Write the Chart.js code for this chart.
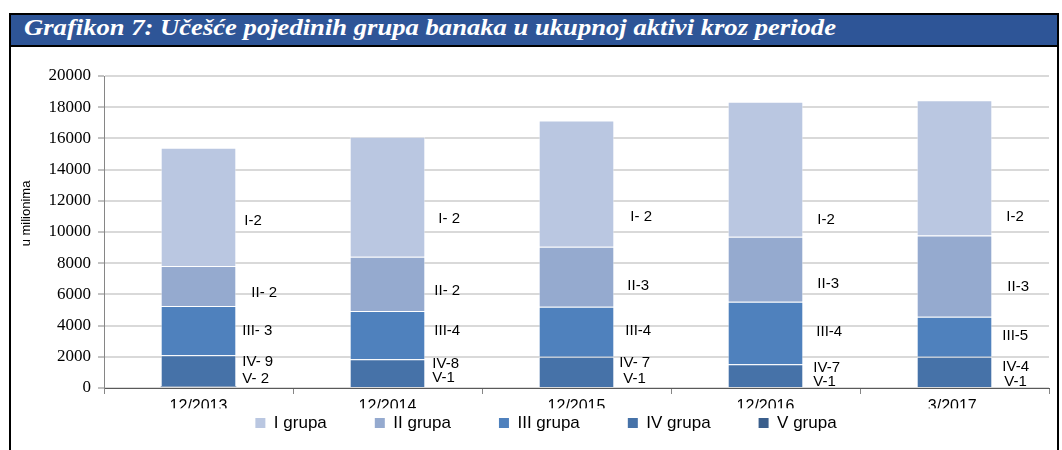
<!DOCTYPE html>
<html><head><meta charset="utf-8">
<script src="https://cdn.jsdelivr.net/npm/chart.js@4.4.1/dist/chart.umd.min.js"></script>
<style>
html,body{margin:0;padding:0;background:#fff;width:1062px;height:450px;overflow:hidden;}
#frame{position:absolute;left:9px;top:13px;width:1046px;height:437px;border-left:2px solid #000;border-top:2px solid #000;border-right:2px solid #000;}
#title{position:absolute;left:0;top:0;width:100%;height:30px;background:#2E5597;border-bottom:2px solid #000;overflow:hidden;}
#title span{position:absolute;left:13px;top:1px;font:bold italic 23px/23px 'Liberation Serif';color:#fff;white-space:nowrap;transform-origin:0 0;}
#wrap{position:absolute;left:11px;top:47px;width:1046px;height:403px;}
</style></head>
<body>
<div id="frame"><div id="title"><span id="tt">Grafikon 7: Učešće pojedinih grupa banaka u ukupnoj aktivi kroz periode</span></div></div>
<div id="wrap"><canvas id="c"></canvas></div>
<script>
// ---- data ----
const categories = ['12/2013','12/2014','12/2015','12/2016','3/2017.'];
const grupaI   = [7580, 7680, 8090, 8650, 8680];
const grupaII  = [2560, 3480, 3850, 4170, 5200];
const grupaIII = [3160, 3100, 3200, 4010, 2560];
const grupaIV  = [2000, 1770, 1940, 1450, 1940];
const grupaV   = [100, 70, 70, 70, 70];
const seriesNames = ['I grupa','II grupa','III grupa','IV grupa','V grupa'];
const yTicks = [0,2000,4000,6000,8000,10000,12000,14000,16000,18000,20000];
// number of banks per group (text labels)
const labI   = ['I-2','I- 2','I- 2','I-2','I-2'];
const labII  = ['II- 2','II- 2','II-3','II-3','II-3'];
const labIII = ['III- 3','III-4','III-4','III-4','III-5'];
const labIV  = ['IV- 9','IV-8','IV- 7','IV-7','IV-4'];
const labV   = ['V- 2','V-1','V-1','V-1','V-1'];

// ---- label placement (value level on the y scale, pixel gap from bar edge) ----
const labelLevel = {
  I:[10737,10820,10942,10794,10987], II:[6070,6237,6538,6647,6493],
  III:[3654,3673,3673,3590,3352], IV:[1686,1538,1622,1263,1327], V:[558,622,577,404,404]
};
const labelGap = {
  I:[8,13,16,14,14], II:[15,9,13,14,15], III:[6,9,11,13,10], IV:[6,7,5,10,10], V:[6,7,9,10,12]
};

// title fit
(function(){const t=document.getElementById('tt');const w=t.getBoundingClientRect().width;t.style.transform='scaleX('+(812/w)+')';})();

const colors = {I:'#BAC7E1', II:'#95AACF', III:'#4F81BD', IV:'#4672A8', V:'#3A5E8C'};

const labelPlugin = {
  id:'groupLabels',
  afterDatasetsDraw(chart){
    const ctx = chart.ctx, ys = chart.scales.y;
    const groups = [['V',labV,0],['IV',labIV,1],['III',labIII,2],['II',labII,3],['I',labI,4]];
    ctx.save();
    ctx.fillStyle='#000';
    ctx.font='15px "Liberation Sans"';
    ctx.textAlign='left'; ctx.textBaseline='middle';
    groups.forEach(([k,texts,di])=>{
      const meta = chart.getDatasetMeta(di);
      meta.data.forEach((bar,j)=>{
        const right = bar.x + bar.width/2;
        ctx.fillText(texts[j], right + labelGap[k][j], ys.getPixelForValue(labelLevel[k][j]));
      });
    });
    ctx.restore();
  },
  afterDraw(chart){
    const ctx=chart.ctx, a=chart.chartArea;
    ctx.save();
    // lower part of category labels is hidden behind the legend area in the original
    ctx.fillStyle='#fff';
    ctx.fillRect(a.left+2, 361.3, a.right-a.left-4, 5);
    // y-axis title
    ctx.fillStyle='#000';
    ctx.font='13px "Liberation Sans"';
    ctx.translate(15, 166.5); ctx.rotate(-Math.PI/2);
    ctx.textAlign='center'; ctx.textBaseline='middle';
    ctx.fillText('u milionima',0,0);
    ctx.restore();
    // legend (series in I..V order)
    ctx.save();
    ctx.font='17px "Liberation Sans"';
    ctx.textBaseline='middle'; ctx.textAlign='left';
    const items = chart.data.datasets.map((d,i)=>({text:d.label,color:d.backgroundColor})).reverse();
    const box=10, gapText=8.5, gapItem=48;
    const widths = items.map(it=>box+gapText+ctx.measureText(it.text).width);
    const total = widths.reduce((s,w)=>s+w,0)+gapItem*(items.length-1);
    let x = 535 - total/2; const yc = 376;
    items.forEach((it,i)=>{
      ctx.fillStyle=it.color; ctx.fillRect(x, yc-5, box, box);
      ctx.fillStyle='#000'; ctx.fillText(it.text, x+box+gapText, yc+0.5);
      x += widths[i]+gapItem;
    });
    ctx.restore();
  }
};

const ds = (label,data,color,bw)=>({label,data,backgroundColor:color,borderColor:'rgba(255,255,255,0.45)',borderWidth:bw,barPercentage:0.4,categoryPercentage:1});

new Chart(document.getElementById('c'),{
  type:'bar',
  data:{labels:categories,datasets:[
    ds(seriesNames[4],grupaV,colors.V,0),
    ds(seriesNames[3],grupaIV,colors.IV,1),
    ds(seriesNames[2],grupaIII,colors.III,1),
    ds(seriesNames[1],grupaII,colors.II,1),
    ds(seriesNames[0],grupaI,colors.I,1)
  ]},
  options:{
    responsive:true, maintainAspectRatio:false, animation:false,
    layout:{padding:{left:0,right:8,top:29,bottom:40}},
    plugins:{
      tooltip:{enabled:false},
      legend:{display:false}
    },
    scales:{
      x:{stacked:true,
        afterFit(s){s.height=22;},
        grid:{offset:true,drawOnChartArea:false,tickLength:6,color:'#868686'},
        border:{color:'#595959',width:1},
        ticks:{color:'#000',padding:3,font:{family:'Liberation Sans',size:16}}
      },
      y:{stacked:true,min:0,max:20000,
        afterFit(s){s.width=93;},
        afterBuildTicks(s){s.ticks=yTicks.map(v=>({value:v}));},
        grid:{color:'#D9D9D9',lineWidth:2,tickColor:'#868686',tickWidth:1,tickLength:6},
        border:{color:'#868686',width:1},
        ticks:{color:'#000',padding:7,font:{family:'Liberation Serif',size:17},callback:v=>String(v)}
      }
    }
  },
  plugins:[labelPlugin]
});
</script>
</body></html>
